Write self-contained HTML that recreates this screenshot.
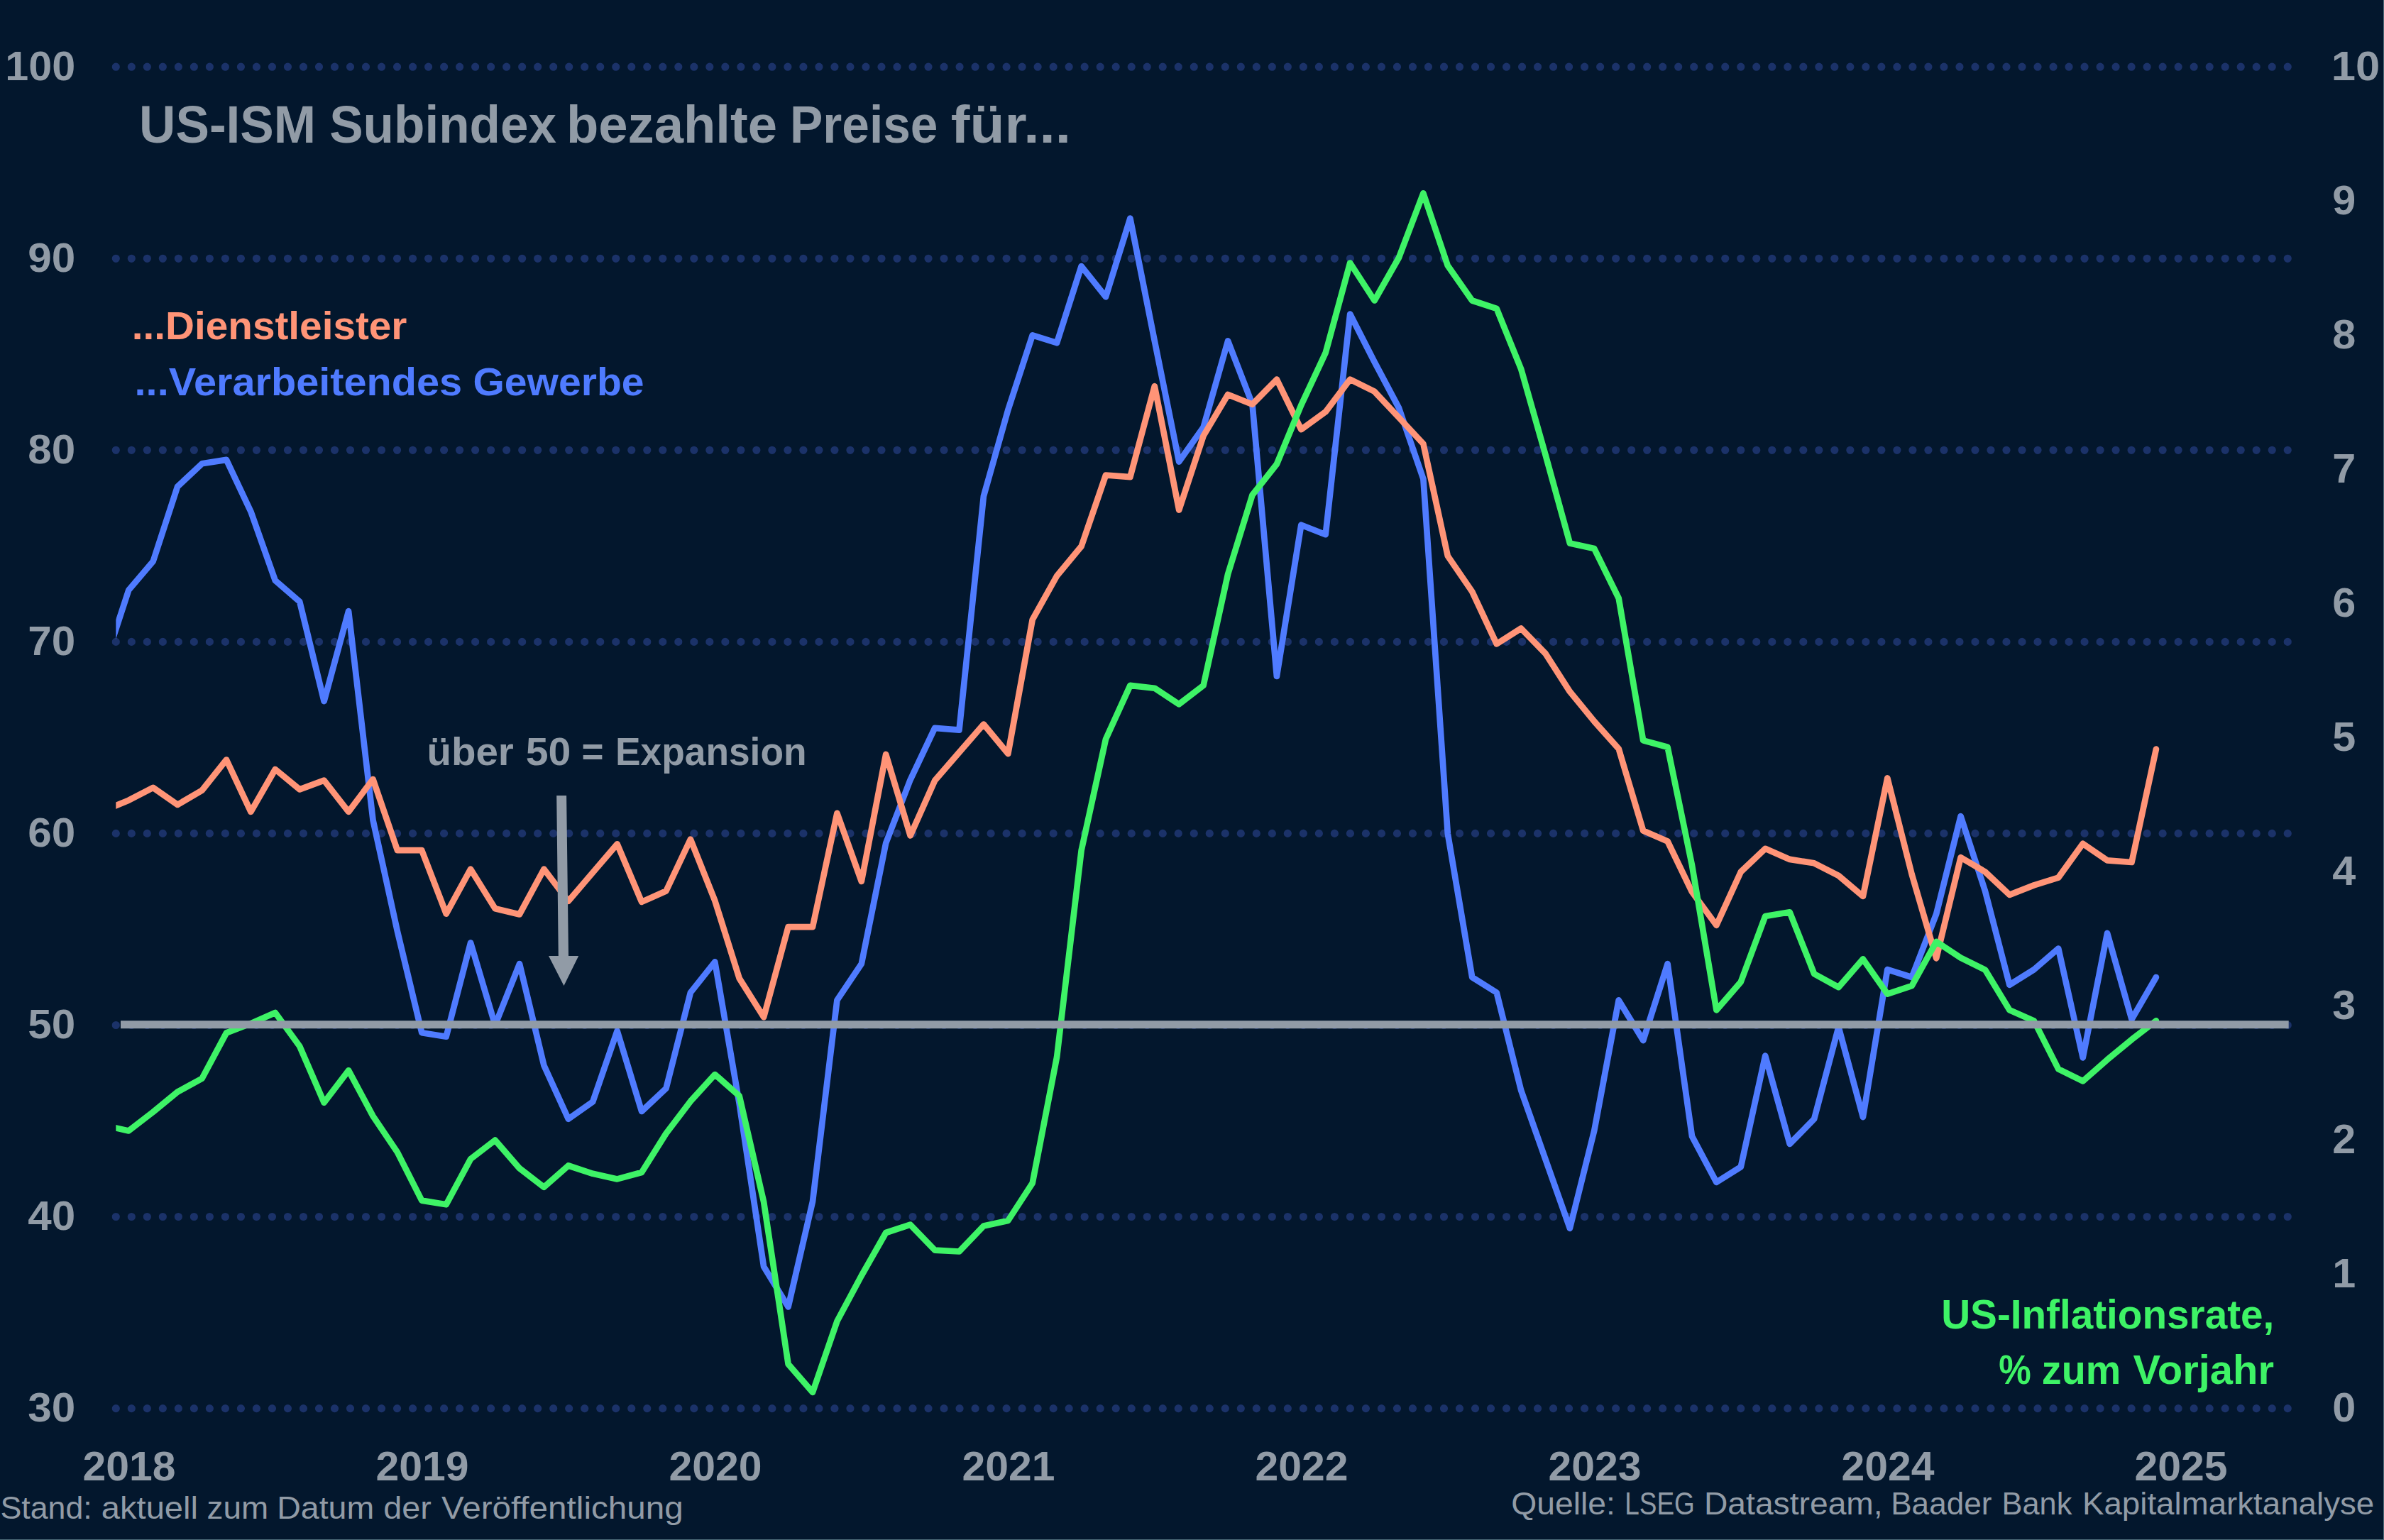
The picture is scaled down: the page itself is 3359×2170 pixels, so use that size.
<!DOCTYPE html><html><head><meta charset="utf-8"><title>Chart</title><style>
html,body{margin:0;padding:0;background:#03172d;}
body{width:3359px;height:2170px;overflow:hidden;}
svg{display:block;}
text{font-family:"Liberation Sans",sans-serif;}
.b{font-weight:bold;}
</style></head><body>
<svg width="3359" height="2170" viewBox="0 0 3359 2170">
<rect x="0" y="0" width="3359" height="2170" fill="#03172d"/>
<defs><clipPath id="cp"><rect x="163.3" y="0" width="3100" height="2170"/></clipPath></defs>
<g stroke="#1b3269" stroke-width="11.2" stroke-linecap="round" stroke-dasharray="0 22.014" fill="none">
<path d="M163.3 1984.6 H3224"/>
<path d="M163.3 1714.5 H3224"/>
<path d="M163.3 1444.5 H3224"/>
<path d="M163.3 1174.4 H3224"/>
<path d="M163.3 904.4 H3224"/>
<path d="M163.3 634.3 H3224"/>
<path d="M163.3 364.3 H3224"/>
<path d="M163.3 94.2 H3224"/>
</g>
<g clip-path="url(#cp)" fill="none" stroke-width="8.7" stroke-linejoin="round" stroke-linecap="round">
<path stroke="#4f7bff" d="M146.9 936.8 L181.3 831.5 L215.7 791.0 L250.1 685.7 L284.6 653.3 L319.0 647.9 L353.4 720.8 L387.8 818.0 L422.2 847.7 L456.6 988.1 L491.1 861.2 L525.5 1155.5 L559.9 1312.2 L594.3 1455.3 L628.7 1460.7 L663.1 1328.4 L697.6 1444.5 L732.0 1358.1 L766.4 1501.2 L800.8 1576.8 L835.2 1552.5 L869.6 1452.6 L904.1 1566.0 L938.5 1533.6 L972.9 1398.6 L1007.3 1355.4 L1041.7 1555.2 L1076.1 1784.8 L1110.6 1841.5 L1145.0 1692.9 L1179.4 1409.4 L1213.8 1358.1 L1248.2 1188.0 L1282.6 1098.8 L1317.1 1025.9 L1351.5 1028.6 L1385.9 699.2 L1420.3 577.6 L1454.7 472.3 L1489.1 483.1 L1523.6 375.1 L1558.0 418.3 L1592.4 307.6 L1626.8 480.4 L1661.2 650.6 L1695.6 601.9 L1730.1 480.4 L1764.5 569.5 L1798.9 953.0 L1833.3 739.7 L1867.7 753.2 L1902.2 442.6 L1936.6 510.1 L1971.0 574.9 L2005.4 674.9 L2039.8 1174.4 L2074.2 1377.0 L2108.7 1398.6 L2143.1 1536.3 L2177.5 1633.5 L2211.9 1730.8 L2246.3 1593.0 L2280.7 1409.4 L2315.2 1466.1 L2349.6 1358.1 L2384.0 1601.1 L2418.4 1665.9 L2452.8 1644.3 L2487.2 1487.7 L2521.7 1611.9 L2556.1 1576.8 L2590.5 1447.2 L2624.9 1574.1 L2659.3 1366.2 L2693.7 1377.0 L2728.2 1287.9 L2762.6 1150.1 L2797.0 1255.5 L2831.4 1387.8 L2865.8 1366.2 L2900.2 1336.5 L2934.7 1490.4 L2969.1 1314.9 L3003.5 1436.4 L3037.9 1377.0"/>
<path stroke="#ff9477" d="M146.9 1142.0 L181.3 1127.7 L215.7 1109.9 L250.1 1133.9 L284.6 1113.7 L319.0 1070.5 L353.4 1143.9 L387.8 1084.0 L422.2 1112.3 L456.6 1099.6 L491.1 1143.9 L525.5 1098.0 L559.9 1198.2 L594.3 1198.2 L628.7 1287.6 L663.1 1224.7 L697.6 1280.3 L732.0 1288.4 L766.4 1224.7 L800.8 1269.8 L835.2 1229.5 L869.6 1189.3 L904.1 1270.9 L938.5 1255.5 L972.9 1182.6 L1007.3 1269.2 L1041.7 1378.6 L1076.1 1433.2 L1110.6 1306.2 L1145.0 1306.2 L1179.4 1145.8 L1213.8 1242.0 L1248.2 1062.9 L1282.6 1177.4 L1317.1 1099.9 L1351.5 1060.2 L1385.9 1020.5 L1420.3 1062.1 L1454.7 873.1 L1489.1 811.5 L1523.6 769.9 L1558.0 669.5 L1592.4 672.2 L1626.8 544.2 L1661.2 718.6 L1695.6 614.1 L1730.1 556.0 L1764.5 569.8 L1798.9 534.7 L1833.3 605.2 L1867.7 580.3 L1902.2 534.7 L1936.6 551.7 L1971.0 588.4 L2005.4 625.4 L2039.8 783.4 L2074.2 833.6 L2108.7 907.4 L2143.1 885.5 L2177.5 920.9 L2211.9 974.6 L2246.3 1016.5 L2280.7 1055.1 L2315.2 1170.4 L2349.6 1185.5 L2384.0 1256.8 L2418.4 1303.8 L2452.8 1228.5 L2487.2 1195.8 L2521.7 1210.9 L2556.1 1216.3 L2590.5 1233.9 L2624.9 1263.0 L2659.3 1096.4 L2693.7 1232.0 L2728.2 1350.3 L2762.6 1208.2 L2797.0 1228.5 L2831.4 1260.9 L2865.8 1247.4 L2900.2 1236.6 L2934.7 1188.8 L2969.1 1212.3 L3003.5 1215.0 L3037.9 1055.6"/>
<path stroke="#3ef366" d="M146.9 1585.8 L181.3 1593.4 L215.7 1566.9 L250.1 1538.6 L284.6 1519.7 L319.0 1455.4 L353.4 1442.2 L387.8 1427.0 L422.2 1474.3 L456.6 1553.7 L491.1 1508.3 L525.5 1572.6 L559.9 1623.6 L594.3 1691.6 L628.7 1697.3 L663.1 1633.1 L697.6 1606.6 L732.0 1646.3 L766.4 1672.8 L800.8 1642.5 L835.2 1653.8 L869.6 1661.4 L904.1 1652.0 L938.5 1597.1 L972.9 1551.8 L1007.3 1514.0 L1041.7 1544.2 L1076.1 1693.5 L1110.6 1922.2 L1145.0 1961.9 L1179.4 1861.8 L1213.8 1797.5 L1248.2 1737.0 L1282.6 1725.7 L1317.1 1761.6 L1351.5 1763.5 L1385.9 1727.6 L1420.3 1720.0 L1454.7 1667.1 L1489.1 1489.4 L1523.6 1198.4 L1558.0 1041.5 L1592.4 965.9 L1626.8 969.7 L1661.2 992.3 L1695.6 965.9 L1730.1 809.0 L1764.5 697.5 L1798.9 654.0 L1833.3 570.9 L1867.7 497.2 L1902.2 370.5 L1936.6 423.5 L1971.0 363.0 L2005.4 272.3 L2039.8 374.3 L2074.2 423.5 L2108.7 434.8 L2143.1 519.8 L2177.5 640.8 L2211.9 765.5 L2246.3 773.1 L2280.7 843.0 L2315.2 1043.4 L2349.6 1052.8 L2384.0 1219.2 L2418.4 1423.3 L2452.8 1383.6 L2487.2 1291.0 L2521.7 1285.3 L2556.1 1372.2 L2590.5 1391.1 L2624.9 1351.4 L2659.3 1400.6 L2693.7 1389.2 L2728.2 1326.9 L2762.6 1349.6 L2797.0 1366.6 L2831.4 1423.3 L2865.8 1438.4 L2900.2 1506.4 L2934.7 1523.4 L2969.1 1493.2 L3003.5 1464.8 L3037.9 1438.4"/>
</g>
<path d="M170.0 1443.8 H3224.7" stroke="#919ba6" stroke-width="11" fill="none"/>
<g fill="#919ba6"><path d="M784.2 1121 L798.1 1121 L801 1347 L815.2 1347 L794.5 1388.9 L773 1347 L786.8 1347 Z"/></g>
<text class="b" x="106.2" y="2003.2" font-size="58.0" fill="#919ba6" text-anchor="end" textLength="67.0" lengthAdjust="spacingAndGlyphs">30</text>
<text class="b" x="106.2" y="1733.1" font-size="58.0" fill="#919ba6" text-anchor="end" textLength="67.0" lengthAdjust="spacingAndGlyphs">40</text>
<text class="b" x="106.2" y="1463.1" font-size="58.0" fill="#919ba6" text-anchor="end" textLength="67.0" lengthAdjust="spacingAndGlyphs">50</text>
<text class="b" x="106.2" y="1193.0" font-size="58.0" fill="#919ba6" text-anchor="end" textLength="67.0" lengthAdjust="spacingAndGlyphs">60</text>
<text class="b" x="106.2" y="923.0" font-size="58.0" fill="#919ba6" text-anchor="end" textLength="67.0" lengthAdjust="spacingAndGlyphs">70</text>
<text class="b" x="106.2" y="652.9" font-size="58.0" fill="#919ba6" text-anchor="end" textLength="67.0" lengthAdjust="spacingAndGlyphs">80</text>
<text class="b" x="106.2" y="382.9" font-size="58.0" fill="#919ba6" text-anchor="end" textLength="67.0" lengthAdjust="spacingAndGlyphs">90</text>
<text class="b" x="106.2" y="112.8" font-size="58.0" fill="#919ba6" text-anchor="end" textLength="99.0" lengthAdjust="spacingAndGlyphs">100</text>
<text class="b" x="3286.3" y="2003.0" font-size="58.0" fill="#919ba6" text-anchor="start" textLength="33.0" lengthAdjust="spacingAndGlyphs">0</text>
<text class="b" x="3286.3" y="1814.0" font-size="58.0" fill="#919ba6" text-anchor="start" textLength="33.0" lengthAdjust="spacingAndGlyphs">1</text>
<text class="b" x="3286.3" y="1625.0" font-size="58.0" fill="#919ba6" text-anchor="start" textLength="33.0" lengthAdjust="spacingAndGlyphs">2</text>
<text class="b" x="3286.3" y="1436.0" font-size="58.0" fill="#919ba6" text-anchor="start" textLength="33.0" lengthAdjust="spacingAndGlyphs">3</text>
<text class="b" x="3286.3" y="1247.0" font-size="58.0" fill="#919ba6" text-anchor="start" textLength="33.0" lengthAdjust="spacingAndGlyphs">4</text>
<text class="b" x="3286.3" y="1058.0" font-size="58.0" fill="#919ba6" text-anchor="start" textLength="33.0" lengthAdjust="spacingAndGlyphs">5</text>
<text class="b" x="3286.3" y="869.0" font-size="58.0" fill="#919ba6" text-anchor="start" textLength="33.0" lengthAdjust="spacingAndGlyphs">6</text>
<text class="b" x="3286.3" y="680.0" font-size="58.0" fill="#919ba6" text-anchor="start" textLength="33.0" lengthAdjust="spacingAndGlyphs">7</text>
<text class="b" x="3286.3" y="491.0" font-size="58.0" fill="#919ba6" text-anchor="start" textLength="33.0" lengthAdjust="spacingAndGlyphs">8</text>
<text class="b" x="3286.3" y="302.0" font-size="58.0" fill="#919ba6" text-anchor="start" textLength="33.0" lengthAdjust="spacingAndGlyphs">9</text>
<text class="b" x="3284.8" y="113.0" font-size="58.0" fill="#919ba6" text-anchor="start" textLength="68.5" lengthAdjust="spacingAndGlyphs">10</text>
<text class="b" x="181.9" y="2086.2" font-size="58.0" fill="#919ba6" text-anchor="middle" textLength="131.0" lengthAdjust="spacingAndGlyphs">2018</text>
<text class="b" x="594.9" y="2086.2" font-size="58.0" fill="#919ba6" text-anchor="middle" textLength="131.0" lengthAdjust="spacingAndGlyphs">2019</text>
<text class="b" x="1007.9" y="2086.2" font-size="58.0" fill="#919ba6" text-anchor="middle" textLength="131.0" lengthAdjust="spacingAndGlyphs">2020</text>
<text class="b" x="1420.9" y="2086.2" font-size="58.0" fill="#919ba6" text-anchor="middle" textLength="131.0" lengthAdjust="spacingAndGlyphs">2021</text>
<text class="b" x="1833.9" y="2086.2" font-size="58.0" fill="#919ba6" text-anchor="middle" textLength="131.0" lengthAdjust="spacingAndGlyphs">2022</text>
<text class="b" x="2246.9" y="2086.2" font-size="58.0" fill="#919ba6" text-anchor="middle" textLength="131.0" lengthAdjust="spacingAndGlyphs">2023</text>
<text class="b" x="2659.9" y="2086.2" font-size="58.0" fill="#919ba6" text-anchor="middle" textLength="131.0" lengthAdjust="spacingAndGlyphs">2024</text>
<text class="b" x="3072.9" y="2086.2" font-size="58.0" fill="#919ba6" text-anchor="middle" textLength="131.0" lengthAdjust="spacingAndGlyphs">2025</text>
<text class="b" x="196.1" y="201.2" font-size="73.5" fill="#919ba6" text-anchor="start" textLength="248.9" lengthAdjust="spacingAndGlyphs">US-ISM</text>
<text class="b" x="464.2" y="201.2" font-size="73.5" fill="#919ba6" text-anchor="start" textLength="319.8" lengthAdjust="spacingAndGlyphs">Subindex</text>
<text class="b" x="797.9" y="201.2" font-size="73.5" fill="#919ba6" text-anchor="start" textLength="297.1" lengthAdjust="spacingAndGlyphs">bezahlte</text>
<text class="b" x="1113.0" y="201.2" font-size="73.5" fill="#919ba6" text-anchor="start" textLength="208.5" lengthAdjust="spacingAndGlyphs">Preise</text>
<text class="b" x="1339.8" y="201.2" font-size="73.5" fill="#919ba6" text-anchor="start" textLength="169.3" lengthAdjust="spacingAndGlyphs">für...</text>
<text class="b" x="185.8" y="477.5" font-size="56.0" fill="#ff9477" text-anchor="start" textLength="387.6" lengthAdjust="spacingAndGlyphs">...Dienstleister</text>
<text class="b" x="189.6" y="556.6" font-size="56.0" fill="#4f7bff" text-anchor="start" textLength="461.6" lengthAdjust="spacingAndGlyphs">...Verarbeitendes</text>
<text class="b" x="666.4" y="556.6" font-size="56.0" fill="#4f7bff" text-anchor="start" textLength="241.2" lengthAdjust="spacingAndGlyphs">Gewerbe</text>
<text class="b" x="601.4" y="1078.1" font-size="56.0" fill="#919ba6" text-anchor="start" textLength="122.4" lengthAdjust="spacingAndGlyphs">über</text>
<text class="b" x="740.8" y="1078.1" font-size="56.0" fill="#919ba6" text-anchor="start" textLength="63.6" lengthAdjust="spacingAndGlyphs">50</text>
<text class="b" x="819.6" y="1078.1" font-size="56.0" fill="#919ba6" text-anchor="start" textLength="31.0" lengthAdjust="spacingAndGlyphs">=</text>
<text class="b" x="867.0" y="1078.1" font-size="56.0" fill="#919ba6" text-anchor="start" textLength="269.5" lengthAdjust="spacingAndGlyphs">Expansion</text>
<text class="b" x="2735.2" y="1872.0" font-size="56.5" fill="#3ef366" text-anchor="start" textLength="469.1" lengthAdjust="spacingAndGlyphs">US-Inflationsrate,</text>
<text class="b" x="2816.2" y="1950.1" font-size="56.5" fill="#3ef366" text-anchor="start" textLength="45.5" lengthAdjust="spacingAndGlyphs">%</text>
<text class="b" x="2876.8" y="1950.1" font-size="56.5" fill="#3ef366" text-anchor="start" textLength="111.4" lengthAdjust="spacingAndGlyphs">zum</text>
<text class="b" x="3005.4" y="1950.1" font-size="56.5" fill="#3ef366" text-anchor="start" textLength="198.6" lengthAdjust="spacingAndGlyphs">Vorjahr</text>
<text x="0.4" y="2140.3" font-size="45.0" fill="#919ba6" text-anchor="start" textLength="129.4" lengthAdjust="spacingAndGlyphs">Stand:</text>
<text x="142.8" y="2140.3" font-size="45.0" fill="#919ba6" text-anchor="start" textLength="136.2" lengthAdjust="spacingAndGlyphs">aktuell</text>
<text x="291.6" y="2140.3" font-size="45.0" fill="#919ba6" text-anchor="start" textLength="86.6" lengthAdjust="spacingAndGlyphs">zum</text>
<text x="390.3" y="2140.3" font-size="45.0" fill="#919ba6" text-anchor="start" textLength="136.9" lengthAdjust="spacingAndGlyphs">Datum</text>
<text x="540.2" y="2140.3" font-size="45.0" fill="#919ba6" text-anchor="start" textLength="67.6" lengthAdjust="spacingAndGlyphs">der</text>
<text x="622.0" y="2140.3" font-size="45.0" fill="#919ba6" text-anchor="start" textLength="340.8" lengthAdjust="spacingAndGlyphs">Veröffentlichung</text>
<text x="2129.2" y="2134.3" font-size="45.0" fill="#919ba6" text-anchor="start" textLength="146.7" lengthAdjust="spacingAndGlyphs">Quelle:</text>
<text x="2289.2" y="2134.3" font-size="45.0" fill="#919ba6" text-anchor="start" textLength="98.7" lengthAdjust="spacingAndGlyphs">LSEG</text>
<text x="2401.0" y="2134.3" font-size="45.0" fill="#919ba6" text-anchor="start" textLength="251.7" lengthAdjust="spacingAndGlyphs">Datastream,</text>
<text x="2664.2" y="2134.3" font-size="45.0" fill="#919ba6" text-anchor="start" textLength="142.2" lengthAdjust="spacingAndGlyphs">Baader</text>
<text x="2820.6" y="2134.3" font-size="45.0" fill="#919ba6" text-anchor="start" textLength="98.8" lengthAdjust="spacingAndGlyphs">Bank</text>
<text x="2934.0" y="2134.3" font-size="45.0" fill="#919ba6" text-anchor="start" textLength="411.2" lengthAdjust="spacingAndGlyphs">Kapitalmarktanalyse</text>
<rect x="3358" y="0" width="1" height="2170" fill="#4e6d7a"/>
<rect x="0" y="2169" width="3359" height="1" fill="#4e6d7a"/>
</svg></body></html>
